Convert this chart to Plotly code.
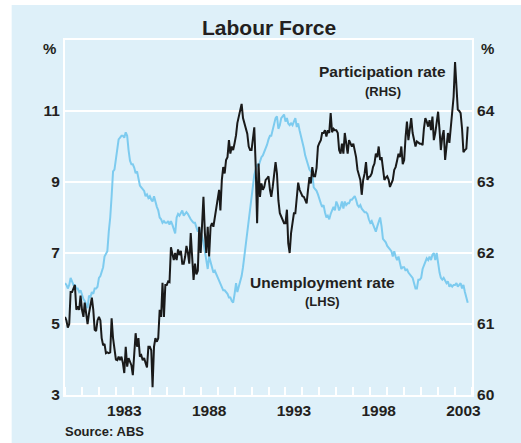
import pandas as pd
import plotly.graph_objects as go

# Monthly series, January 1980 onwards (one row per year)
unemployment = [
    6.15, 6.1, 6.0, 6.1, 6.3, 6.2, 6.1, 6.1, 6.0, 6.0, 5.9, 5.95,          # 1980
    5.8, 5.7, 5.65, 5.55, 5.45, 5.8, 5.75, 5.9, 5.85, 6.0, 6.0, 6.05,      # 1981
    6.3, 6.35, 6.45, 6.6, 6.9, 7.0, 7.05, 7.6, 8.0, 8.6, 9.3, 9.35,        # 1982
    9.7, 9.95, 10.2, 10.25, 10.3, 10.3, 10.25, 10.4, 10.3, 9.9, 9.6, 9.5,  # 1983
    9.5, 9.4, 9.25, 9.3, 9.1, 8.9, 8.85, 8.8, 8.75, 8.6, 8.65, 8.55,       # 1984
    8.6, 8.5, 8.45, 8.6, 8.4, 8.3, 8.2, 8.0, 7.95, 7.85, 7.9, 7.85,        # 1985
    7.85, 7.9, 7.8, 7.9, 7.8, 7.7, 7.55, 8.0, 8.1, 8.05, 8.15, 8.2,        # 1986
    8.05, 8.1, 8.15, 8.1, 8.0, 7.95, 7.9, 7.85, 7.85, 7.75, 7.6, 7.7,      # 1987
    7.6, 7.45, 7.3, 7.05, 6.8, 6.55, 6.9, 6.75, 6.6, 6.45, 6.5, 6.4,       # 1988
    6.3, 6.2, 6.15, 6.05, 5.95, 5.95, 5.9, 5.85, 5.75, 5.75, 5.65, 5.6,    # 1989
    5.85, 6.15, 5.9, 6.05, 6.2, 6.35, 6.6, 6.95, 7.2, 7.6, 7.9, 8.3,       # 1990
    8.6, 8.9, 9.2, 9.35, 9.5, 9.45, 9.6, 9.7, 9.75, 9.85, 9.9, 10.05,      # 1991
    10.2, 10.3, 10.3, 10.45, 10.65, 10.8, 10.85, 10.5, 10.6, 10.8, 10.85, 10.9,  # 1992
    10.7, 10.8, 10.65, 10.6, 10.65, 10.6, 10.7, 10.8, 10.55, 10.65, 10.45, 10.3, # 1993
    10.1, 9.95, 9.75, 9.6, 9.45, 9.35, 9.3, 9.25, 8.85, 8.8, 8.75, 8.65,   # 1994
    8.55, 8.4, 8.3, 8.35, 8.15, 8.0, 8.05, 7.95, 8.1, 8.2, 8.3, 8.2,       # 1995
    8.45, 8.35, 8.2, 8.3, 8.45, 8.25, 8.45, 8.35, 8.4, 8.4, 8.5, 8.5,      # 1996
    8.55, 8.6, 8.5, 8.35, 8.3, 8.35, 8.25, 8.2, 8.15, 8.15, 8.1, 7.95,     # 1997
    7.85, 7.9, 7.8, 7.7, 7.6, 7.75, 7.9, 8.0, 7.75, 7.4, 7.35, 7.3,        # 1998
    7.2, 7.15, 7.1, 7.05, 6.9, 7.05, 6.9, 6.8, 6.9, 6.7, 6.55, 6.6,        # 1999
    6.6, 6.5, 6.55, 6.45, 6.4, 6.35, 6.3, 6.15, 6.0, 6.0, 6.25, 6.25,      # 2000
    6.3, 6.55, 6.65, 6.75, 6.85, 6.8, 6.9, 6.8, 6.95, 7.0, 6.8, 7.0,       # 2001
    6.7, 6.45, 6.3, 6.25, 6.3, 6.2, 6.15, 6.2, 6.05, 6.1, 6.05, 6.1,       # 2002
    6.1, 6.15, 6.05, 6.1, 6.15, 6.0, 6.1, 5.9, 5.75, 5.6,                  # 2003
]

participation = [
    61.1, 61.05, 60.95, 61.0, 61.45, 61.45, 61.5, 61.55, 61.2, 61.25, 61.2, 61.4,        # 1980
    61.2, 61.1, 61.3, 61.15, 61.0, 61.15, 61.25, 61.37, 61.2, 60.92, 60.9, 61.05,        # 1981
    61.1, 61.05, 60.8, 60.7, 60.72, 60.59, 60.6, 60.59, 60.6, 61.08, 60.8, 60.65,        # 1982
    60.5, 60.49, 60.54, 60.49, 60.54, 60.45, 60.31, 60.68, 60.4, 60.52, 60.46, 60.42,    # 1983
    60.28, 60.62, 60.87, 60.68, 60.8, 60.54, 60.56, 60.49, 60.52, 60.45, 60.39, 60.68,   # 1984
    60.68, 60.63, 60.11, 60.68, 60.8, 60.75, 60.8, 61.2, 61.1, 61.58, 61.1, 61.55,       # 1985
    61.55, 61.6, 61.59, 62.08, 62.0, 61.9, 62.0, 61.9, 62.05, 61.97, 62.03, 61.85,       # 1986
    61.85, 61.95, 62.1, 62.0, 61.85, 62.28, 61.95, 61.62, 61.85, 61.7, 61.75, 62.37,     # 1987
    62.0, 62.37, 62.79, 62.28, 62.0, 62.37, 61.95, 62.37, 62.42, 62.37, 62.5, 62.6,      # 1988
    62.75, 62.89, 62.6, 63.03, 63.21, 63.12, 63.31, 63.35, 63.59, 63.4, 63.5, 63.45,     # 1989
    63.55, 63.66, 63.83, 63.92, 63.97, 64.1, 63.9, 63.83, 63.78, 63.68, 63.5, 63.45,     # 1990
    63.45, 63.59, 63.77, 63.21, 62.42, 63.26, 62.79, 62.98, 62.89, 62.93, 63.03, 63.05,  # 1991
    63.08, 62.89, 62.79, 62.93, 63.08, 63.28, 63.12, 62.74, 62.56, 62.51, 62.45, 62.42,  # 1992
    62.42, 62.61, 62.14, 62.0, 62.28, 62.47, 62.56, 62.56, 62.75, 62.99, 62.89, 62.84,   # 1993
    62.8, 62.79, 62.75, 62.7, 62.89, 63.07, 62.98, 63.21, 63.08, 63.08, 63.2, 63.5,      # 1994
    63.55, 63.59, 63.69, 63.69, 63.73, 63.64, 63.73, 63.69, 63.97, 63.7, 63.75, 63.73,   # 1995
    63.73, 63.69, 63.45, 63.4, 63.54, 63.4, 63.69, 63.5, 63.4, 63.59, 63.55, 63.5,       # 1996
    63.54, 63.43, 63.35, 63.17, 63.08, 63.03, 62.82, 63.03, 63.12, 63.28, 63.03, 63.07,  # 1997
    63.08, 63.12, 63.21, 63.26, 63.4, 63.35, 63.5, 63.31, 63.35, 63.17, 63.03, 63.06,    # 1998
    63.08, 63.03, 62.93, 62.98, 63.03, 63.17, 63.21, 63.3, 63.4, 63.35, 63.5, 63.25,     # 1999
    63.31, 63.64, 63.85, 63.59, 63.73, 63.9, 63.69, 63.57, 63.5, 63.57, 63.55, 63.54,    # 2000
    63.54, 63.52, 63.75, 63.9, 63.85, 63.78, 63.87, 63.73, 63.92, 63.59, 63.69, 63.85,   # 2001
    63.99, 63.73, 63.45, 63.64, 63.73, 63.31, 63.5, 63.69, 63.55, 63.77, 63.9, 64.2,     # 2002
    64.69, 64.3, 64.02, 64.0, 63.97, 63.75, 63.42, 63.45, 63.47, 63.78,                  # 2003
]

year_labels = ["1983", "1988", "1993", "1998", "2003"]
left_ticks = [3, 5, 7, 9, 11]
right_ticks = [60, 61, 62, 63, 64]

months = pd.date_range("1980-01-01", periods=len(unemployment), freq="MS")

BG = "#DEF0F9"
INK = "#231F20"
FONT = "Liberation Sans, Arial, sans-serif"

fig = go.Figure()
fig.add_trace(go.Scatter(
    x=months, y=unemployment, mode="lines", yaxis="y",
    line=dict(color="#7DCBEF", width=2), showlegend=False, hoverinfo="skip",
))
fig.add_trace(go.Scatter(
    x=months, y=participation, mode="lines", yaxis="y2",
    line=dict(color="#1A1A1A", width=2), showlegend=False, hoverinfo="skip",
))

tick_font = dict(family=FONT, size=15.5, color=INK, weight="bold")

fig.update_layout(
    width=521, height=443,
    margin=dict(l=65, r=49, t=40, b=48),
    paper_bgcolor="white",
    plot_bgcolor=BG,
    font=dict(family=FONT, color=INK),
    xaxis=dict(
        range=["1980-01-01", "2004-01-01"],
        tickmode="array",
        tickvals=[f"{y}-07-01" for y in year_labels],
        ticktext=year_labels,
        ticks="",
        tickfont=tick_font,
        showgrid=False, zeroline=False,
        showline=True, linecolor="white", linewidth=2, mirror=True,
        minor=dict(ticks="inside", ticklen=8, tickwidth=1.5, tickcolor="white",
                   dtick="M12", tick0="1980-01-01", showgrid=False),
    ),
    yaxis=dict(
        range=[3, 13], tickvals=left_ticks, ticks="",
        tickfont=tick_font,
        showgrid=True, gridcolor="white", gridwidth=2,
        zeroline=False, showline=True, linecolor="white", linewidth=2,
    ),
    yaxis2=dict(
        range=[60, 65], tickvals=right_ticks, ticks="",
        tickfont=tick_font, overlaying="y", side="right",
        showgrid=False, zeroline=False,
        showline=True, linecolor="white", linewidth=2,
    ),
    shapes=[dict(
        type="rect", xref="paper", yref="paper",
        x0=-0.131, x1=1.13, y0=-0.14, y1=1.0986,
        fillcolor=BG, line=dict(width=0), layer="below",
    )],
)

def label(text, x, y, size=15.5, xanchor="center"):
    fig.add_annotation(
        text=text, x=x, y=y, xref="paper", yref="paper",
        xanchor=xanchor, yanchor="middle", showarrow=False,
        font=dict(family=FONT, size=size, color=INK, weight="bold"),
    )

label("Labour Force", 0.5, (395 - 27) / 355, size=21)
label("%", -0.039, 0.975, size=15)
label("%", 1.039, 0.975, size=15)
label("Participation rate", 0.781, 0.910)
label("(RHS)", 0.781, 0.856, size=13)
label("Unemployment rate", 0.633, 0.3155)
label("(LHS)", 0.633, 0.262, size=13)
label("Source: ABS", -0.005, -0.104, size=13, xanchor="left")

fig.write_html("out.html")
